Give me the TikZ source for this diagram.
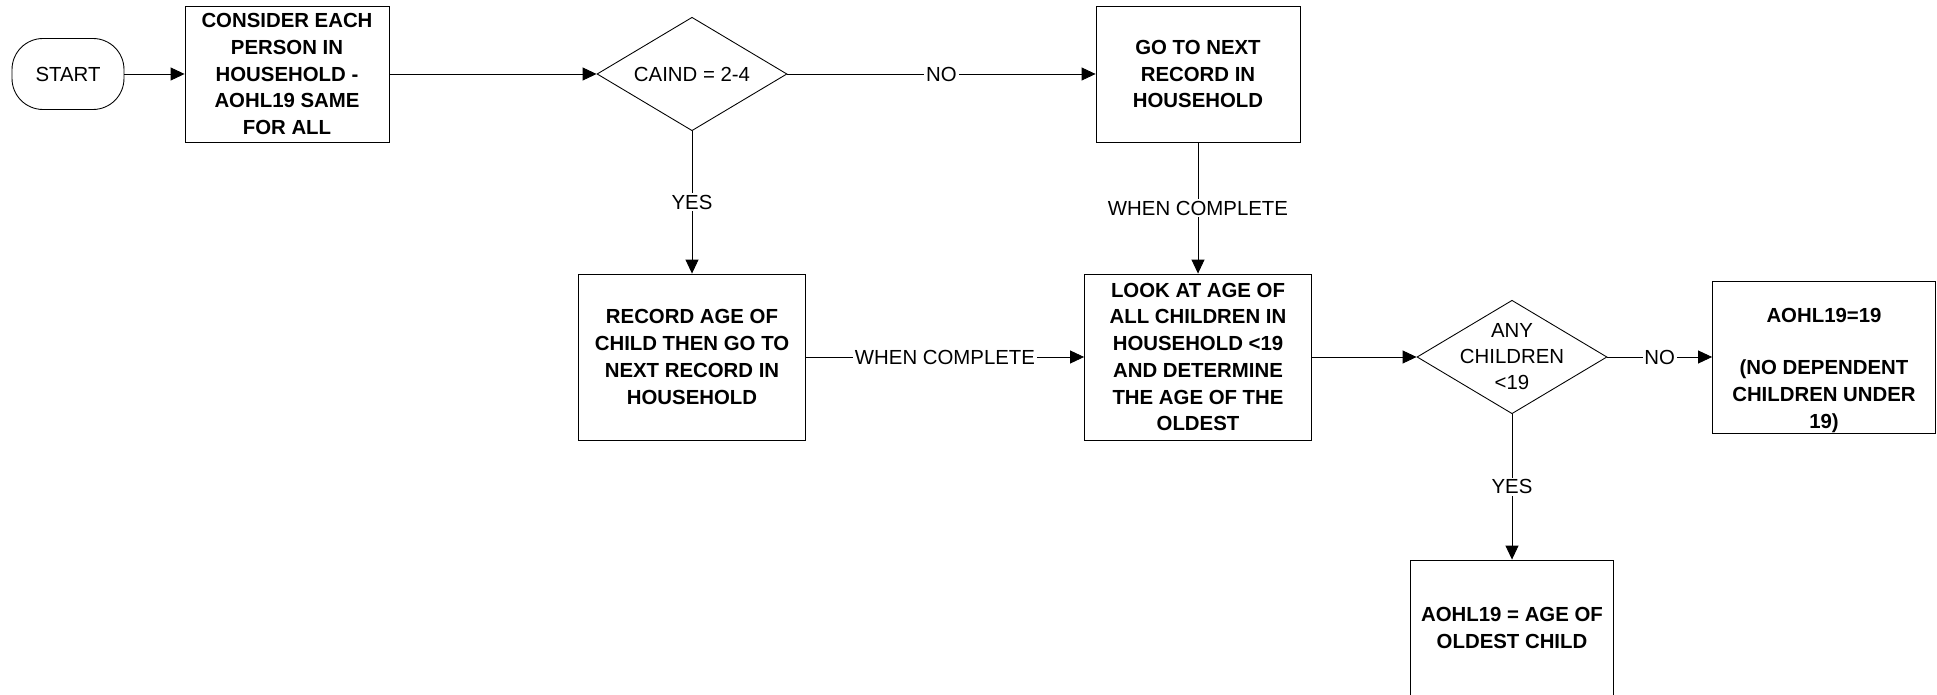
\documentclass[tikz,border=0pt]{standalone}
\usepackage{fontspec}
\setmainfont{Liberation Sans}
\usepackage{tikz}
\usetikzlibrary{shapes.geometric,arrows.meta}

\begin{document}
\begin{tikzpicture}[x=0.02cm,y=-0.02cm,line width=0.5pt]%
  \tikzstyle{every node}=[font=\fontsize{11.6}{14.8}\selectfont]
  \tikzstyle{term}=[rectangle,draw,rounded corners=0.62cm,minimum width=2.24cm,minimum height=1.42cm]
  \tikzstyle{proc}=[rectangle,draw,align=center,inner sep=2,font=\bfseries\fontsize{11.6}{15.2}\selectfont,minimum width=4.08cm,minimum height=2.72cm]
  \tikzstyle{bigproc}=[proc,minimum width=4.54cm,minimum height=3.32cm]
  \tikzstyle{ask}=[diamond,draw,inner sep=0,minimum width=3.8cm,minimum height=2.27cm]
  \tikzstyle{asktext}=[align=center,inner sep=0]
  \tikzstyle{flow}=[-{Triangle[length=0.28cm,width=0.26cm]}]
  \tikzstyle{tag}=[fill=white,inner sep=1]
  \useasboundingbox (0,0) rectangle (1937,695);
  % top row
  \node(start)[term] at (68,74) {START};
  \node(each)[proc] at (287,74) {CONSIDER EACH\\PERSON IN\\HOUSEHOLD -\\AOHL19 SAME\\FOR ALL};
  \node(caind)[ask,label={[asktext]center:CAIND = 2-4}] at (692,74) {};
  \node(next)[proc] at (1198,74) {GO TO NEXT\\RECORD IN\\HOUSEHOLD};
  % middle row
  \node(rec)[bigproc] at (692,357) {RECORD AGE OF\\CHILD THEN GO TO\\NEXT RECORD IN\\HOUSEHOLD};
  \node(look)[bigproc] at (1198,357) {LOOK AT AGE OF\\ALL CHILDREN IN\\HOUSEHOLD <19\\AND DETERMINE\\THE AGE OF THE\\OLDEST};
  \node(any)[ask,label={[asktext]center:ANY\\CHILDREN\\<19}] at (1512,357) {};
  \node(none)[proc,inner ysep=0,minimum width=4.46cm,minimum height=3.04cm] at (1824,357)
    {\rule{0pt}{23pt}AOHL19=19\\[14.8pt](NO DEPENDENT\\CHILDREN UNDER\\19)};
  % bottom
  \node(oldest)[proc,minimum width=4.06cm] at (1512,628) {AOHL19 = AGE OF\\OLDEST CHILD};
  % connectors
  \draw[flow] (start) -- (each);
  \draw[flow] (each) -- (caind);
  \draw[flow] (caind) -- node[tag]{NO} (next);
  \draw[flow] (caind) -- node[tag]{YES} (rec);
  \draw[flow] (next) -- node[tag]{WHEN COMPLETE} (look);
  \draw[flow] (rec) -- node[tag]{WHEN COMPLETE} (look);
  \draw[flow] (look) -- (any);
  \draw[flow] (any) -- node[tag]{NO} (none);
  \draw[flow] (any) -- node[tag]{YES} (oldest);
\end{tikzpicture}
\end{document}
